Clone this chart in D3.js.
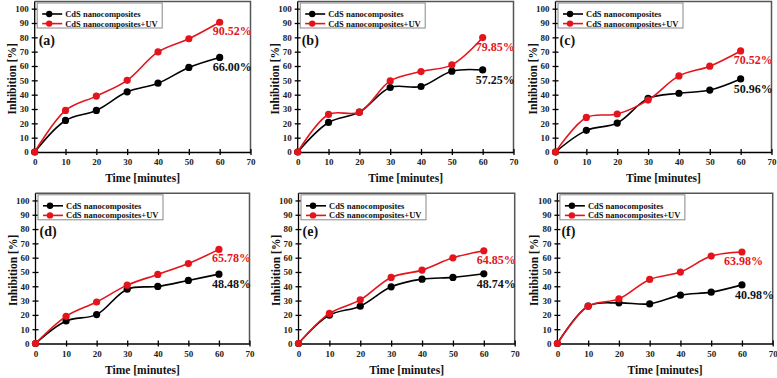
<!DOCTYPE html>
<html lang="en">
<head>
<meta charset="UTF-8">
<title>inhibition</title>
<style>
   body { margin: 0; background: #fff; }
   svg { display: block; background: #fff; }
   text { font-family: "Liberation Serif", "Times New Roman", serif; font-weight: bold; }
   .tick text { font-size: 9px; fill: #222; }
   .axis path, .axis line { stroke: #000; stroke-width: 1.3px; }
   .axisTitle { font-size: 11.5px; fill: #111; text-anchor: middle; }
   .legendText { font-size: 8.5px; fill: #111; }
   .panelLabel { font-size: 14px; fill: #111; }
   .endLabel { font-size: 12px; }
</style>
</head>
<body>
<div class="content"></div>
<script src="https://cdn.jsdelivr.net/npm/d3@7/dist/d3.min.js"></script>
<script>
   // data
   var times = [0, 10, 20, 30, 40, 50, 60];
   var panels = ["(a)", "(b)", "(c)", "(d)", "(e)", "(f)"];
   var seriesNames = ["CdS nanocomposites", "CdS nanocomposites+UV"];

   var cds = [
      [0, 22, 29, 42, 48, 59, 66.00],
      [0, 20.6, 27.8, 45, 45.7, 56.4, 57.25],
      [0, 15.1, 20.2, 37.4, 41, 43.2, 50.96],
      [0, 15.8, 20.2, 38, 39.9, 44.1, 48.48],
      [0, 19.8, 26.1, 39.6, 45, 46.2, 48.74],
      [0, 26.1, 28.4, 27.7, 33.8, 35.9, 40.98]
   ];
   var cdsUV = [
      [0, 29, 39, 50, 69.8, 79, 90.52],
      [0, 26.2, 27.8, 49.6, 56.1, 60.8, 79.85],
      [0, 24.1, 26.5, 36.2, 53.1, 59.9, 70.52],
      [0, 19, 29, 40.8, 48.3, 55.9, 65.78],
      [0, 21, 30.5, 46.2, 51.3, 59.9, 64.85],
      [0, 26.1, 31.2, 44.8, 49.9, 61.1, 63.98]
   ];
   var xTicks = [0, 10, 20, 30, 40, 50, 60, 70];
   var yTicks = [0, 10, 20, 30, 40, 50, 60, 70, 80, 90, 100];

   // plot boxes
   var boxes = [
      { left: 34.7, right: 250.5, top: 1.5, bottom: 152 },
      { left: 297.7, right: 513.5, top: 1.5, bottom: 152 },
      { left: 555.5, right: 771.5, top: 1.5, bottom: 152 },
      { left: 35.5, right: 249.5, top: 193.3, bottom: 343.5 },
      { left: 298.5, right: 514.7, top: 193.3, bottom: 343.5 },
      { left: 557.4, right: 772.7, top: 193.3, bottom: 343.5 }
   ];
   var redLabelDx = [-7, -7, -7, -7, -7, -18];

   var red = "#e4141c";
   var colors = ["#000", red];

   var width = 777, height = 378;

   var svg = d3.select(".content").append("svg")
      .attr("width", width)
      .attr("height", height);

   panels.forEach(function (name, p) {
      var b = boxes[p];
      var x = d3.scaleLinear().domain([0, 70]).range([b.left, b.right]);
      var y = d3.scaleLinear().domain([0, 105]).range([b.bottom, b.top]);
      var g = svg.append("g");

      // frame top/right
      g.append("path")
         .attr("d", "M" + b.left + "," + b.top + "H" + b.right + "V" + b.bottom)
         .attr("fill", "none")
         .attr("stroke", "#555")
         .attr("stroke-width", 1.5);

      var xa = g.append("g")
         .attr("class", "axis")
         .attr("transform", "translate(0," + b.bottom + ")")
         .call(d3.axisBottom(x).tickValues(xTicks).tickSizeInner(3).tickSizeOuter(0).tickPadding(4));
      xa.selectAll(".tick line").attr("y1", -3);

      var ya = g.append("g")
         .attr("class", "axis")
         .attr("transform", "translate(" + b.left + ",0)")
         .call(d3.axisLeft(y).tickValues(yTicks).tickSizeInner(3).tickSizeOuter(0).tickPadding(3));
      ya.select(".domain").attr("d", "M0," + b.bottom + "V" + b.top);
      ya.selectAll(".tick line").attr("x1", 3);

      g.append("text")
         .attr("class", "axisTitle")
         .attr("x", (b.left + b.right) / 2)
         .attr("y", b.bottom + 30)
         .text("Time [minutes]");

      g.append("text")
         .attr("class", "axisTitle")
         .attr("transform", "translate(" + (b.left - 19) + "," + ((b.top + b.bottom) / 2 + 2) + ") rotate(-90)")
         .text("Inhibition [%]");

      var line = d3.line()
         .x(function (d, i) { return x(times[i]); })
         .y(function (d) { return y(d); })
         .curve(d3.curveCatmullRom.alpha(0.5));

      [cds[p], cdsUV[p]].forEach(function (vals, s) {
         g.append("path")
            .attr("d", line(vals))
            .attr("fill", "none")
            .attr("stroke", colors[s])
            .attr("stroke-width", 1.6);
         g.selectAll(".pt" + s)
            .data(vals)
            .enter().append("circle")
            .attr("cx", function (d, i) { return x(times[i]); })
            .attr("cy", function (d) { return y(d); })
            .attr("r", 3.6)
            .attr("fill", colors[s]);
      });

      // end labels
      g.append("text")
         .attr("class", "endLabel")
         .attr("x", x(60) + redLabelDx[p])
         .attr("y", y(cdsUV[p][6]) + 13)
         .attr("fill", red)
         .text(d3.format(".2f")(cdsUV[p][6]) + "%");
      g.append("text")
         .attr("class", "endLabel")
         .attr("x", x(60) - 7)
         .attr("y", y(cds[p][6]) + 14)
         .attr("fill", "#111")
         .text(d3.format(".2f")(cds[p][6]) + "%");

      // legend
      var lg = g.append("g").attr("transform", "translate(" + (b.left + 2.5) + "," + (b.top + 1.5) + ")");
      lg.append("rect")
         .attr("width", 125).attr("height", 25)
         .attr("fill", "#fff")
         .attr("stroke", "#888")
         .attr("stroke-width", 1);
      seriesNames.forEach(function (n, s) {
         var ry = 11 + s * 9.6;
         lg.append("line")
            .attr("x1", 5).attr("x2", 25)
            .attr("y1", ry).attr("y2", ry)
            .attr("stroke", colors[s]).attr("stroke-width", 1.6);
         lg.append("circle")
            .attr("cx", 12).attr("cy", ry).attr("r", 3.2)
            .attr("fill", colors[s]);
         lg.append("text")
            .attr("class", "legendText")
            .attr("x", 28).attr("y", ry + 3)
            .text(n);
      });

      g.append("text")
         .attr("class", "panelLabel")
         .attr("x", b.left + 4)
         .attr("y", b.top + 43)
         .text(name);
   });
</script>
</body>
</html>
